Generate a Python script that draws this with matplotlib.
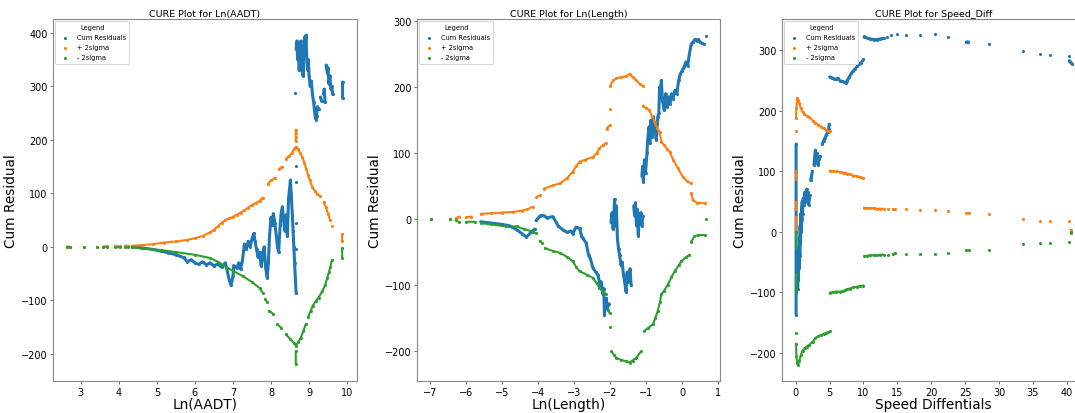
import numpy as np
from matplotlib import pyplot as plt

nan = np.nan

# ---- Ln(AADT) panel ----
aadt_cum_x = [4.35, 4.6, 4.9, 5.1, 5.3, 5.5, 5.7, 5.8, 5.9, 6.0, 6.1, 6.2, 6.3, 6.4, 6.5, 6.6, 6.7, 6.8,
              6.85, 6.9, 6.95, 7.0, 7.02, 7.1, 7.15, 7.2, 7.25, 7.3, 7.35, 7.4, 7.45, 7.5, 7.55, 7.58,
              7.62, 7.66, 7.7, 7.74, 7.78, 7.82, 7.86, 7.9, 7.93, 7.96, 8.0, 8.03, 8.06, 8.1, 8.14,
              8.17, 8.2, 8.24, 8.27, 8.3, 8.33, 8.36, 8.4, 8.43, 8.46, 8.49, 8.51, 8.53, 8.56, 8.58,
              8.6, 8.62, 8.64, 8.66, nan,
              8.65, nan, 8.65, nan, 8.65, nan, 8.65, nan, 8.64, nan,
              8.66, 8.68, 8.7, 8.72, 8.74, 8.76, 8.78, 8.8, 8.82, 8.84, 8.86, 8.88, 8.9, 8.92, 8.94,
              8.96, 8.98, 9.0, 9.03, 9.06, 9.09, 9.12, 9.15, 9.18, 9.2, 9.22, 9.25, nan,
              9.3, 9.33, nan, 9.38, 9.4, 9.42, nan, 9.45, 9.48, 9.5, 9.52, 9.55, 9.57, nan,
              9.6, 9.62, nan, 9.88, 9.88]
aadt_cum_y = [0, -2, -5, -8, -11, -15, -20, -28, -24, -30, -33, -28, -34, -30, -36, -32, -38, -30,
              -45, -62, -72, -55, -35, -40, -30, -42, -25, 5, -5, 10, 0, 15, 25, 10,
              -5, -20, -10, -35, -20, 0, -40, -58, -30, 20, 55, 40, 62, 45, 20,
              0, -10, 40, 65, 75, 50, 30, 60, 20, 90, 110, 125, 100, 60, 30,
              0, -30, -60, -87, nan,
              152, nan, 122, nan, 45, nan, -5, nan, 288, nan,
              370, 385, 350, 378, 330, 360, 385, 345, 375, 320, 360, 392, 370, 396, 350,
              330, 350, 320, 300, 310, 285, 270, 250, 238, 245, 262, 258, nan,
              280, 272, nan, 285, 295, 270, nan, 340, 325, 335, 305, 320, 295, nan,
              300, 285, nan, 308, 278]

aadt_hi_x = [2.64, 2.71, nan, 3.08, nan, 3.43, nan, 3.58, 3.68, nan, 3.9, 4.04, nan, 4.17, 4.25, nan,
             4.35, 4.6, 4.9, 5.2, 5.5, 5.8, 6.0, 6.2, 6.4, 6.5, 6.6, 6.7, 6.8, 6.9, 7.0, 7.1, 7.2,
             7.3, 7.4, 7.5, 7.6, 7.7, 7.78, nan,
             7.92, 8.0, 8.1, nan, 8.22, 8.3, nan, 8.4, 8.48, 8.55, 8.6, 8.65, 8.7, 8.76, 8.82, 8.88,
             8.93, 8.97, 9.02, 9.08, 9.15, 9.22, 9.28, nan, 9.38, 9.44, 9.5, 9.55, nan, 9.6, nan,
             8.65, 8.65, 8.65, 8.65, nan, 9.87, 9.87]
aadt_hi_y = [0, 0, nan, 0, nan, 0, nan, 0, 1, nan, 1, 1, nan, 2, 2, nan,
             2, 3, 5, 8, 10, 13, 16, 20, 27, 32, 38, 45, 50, 53, 56, 60, 64,
             68, 73, 78, 82, 86, 92, nan,
             118, 124, 128, nan, 146, 150, nan, 165, 170, 176, 182, 187, 183, 176, 168, 156,
             145, 135, 124, 112, 104, 99, 95, nan, 83, 74, 62, 50, nan, 38, nan,
             198, 205, 212, 219, nan, 23, 10]

aadt_lo_x = [2.64, 2.71, nan, 3.08, nan, 3.43, nan, 3.58, 3.68, nan, 3.9, 4.04, nan, 4.17, 4.25, nan,
             4.35, 4.6, 4.9, 5.1, 5.5, 6.0, 6.4, 6.6, 6.83, 7.0, 7.26, 7.5, 7.7, 7.78, nan,
             7.85, 7.9, nan, 7.96, 8.06, nan, 8.17, 8.26, nan, 8.39, 8.5, 8.6, 8.65, 8.72, 8.78,
             8.85, 8.91, nan, 8.97, 9.04, 9.1, 9.17, 9.25, 9.35, 9.42, 9.48, 9.52, 9.56, 9.6, nan,
             8.65, 8.65, nan, 9.87, 9.87]
aadt_lo_y = [0, 0, nan, 0, nan, 0, nan, 0, 0, nan, -1, -1, nan, -1, -1, nan,
             -1, -3, -5, -6, -10, -15, -21, -28, -38, -45, -55, -66, -77, -86, nan,
             -98, -104, nan, -120, -126, nan, -145, -151, nan, -164, -172, -180, -185, -178, -170,
             -158, -145, nan, -132, -120, -110, -102, -95, -83, -72, -58, -48, -37, -25, nan,
             -195, -220, nan, -2, -21]

# ---- Ln(Length) panel ----
len_cum_x = [-5.6, -5.3, -5.0, -4.8, -4.6, -4.45, -4.33, -4.2, -4.1, nan,
             -4.06, -3.95, -3.87, -3.75, -3.6, -3.51, -3.45, -3.32, -3.2, -3.1, -3.04, -2.95, -2.85,
             -2.8, -2.76, -2.67, -2.6, -2.55, -2.48, -2.4, -2.34, -2.28, -2.25, -2.2, -2.18, -2.16,
             -2.12, -2.08, -2.04, nan,
             -1.98, -1.95, -1.92, -1.9, -1.88, -1.85, -1.83, -1.8, -1.77, -1.74, -1.7, -1.67, -1.63,
             -1.6, -1.56, -1.53, -1.5, -1.45, -1.42, nan,
             -1.35, -1.32, -1.3, -1.27, -1.25, -1.22, -1.2, -1.15, -1.12, -1.1, nan,
             -1.12, -1.1, -1.08, -1.05, -1.02, -0.98, -0.96, -0.92, -0.9, -0.87, -0.84, -0.8, -0.76,
             -0.72, -0.68, -0.65, -0.63, -0.61, -0.58, -0.55, -0.5, -0.46, -0.42, -0.38, -0.34, -0.3,
             -0.26, -0.2, -0.15, -0.1, -0.05, 0.0, 0.05, 0.1, 0.15, 0.2, 0.25, 0.3, 0.35, 0.4, 0.45,
             0.5, 0.55, 0.6, nan, 0.67]
len_cum_y = [-4, -6, -8, -10, -16, -22, -27, -20, -15, nan,
             -2, 5, 6, 2, 4, -4, -10, -16, -20, -18, -22, -12, -14,
             -25, -29, -36, -55, -60, -74, -80, -85, -100, -95, -114, -105, -145,
             -120, -135, -128, nan,
             -5, 10, -15, 5, 30, -10, 20, -30, -45, -55, -70, -65, -85,
             -95, -110, -80, -95, -75, -100, nan,
             20, 5, 25, -10, 15, -25, 0, 10, -10, 5, nan,
             65, 80, 57, 90, 70, 100, 120, 140, 115, 150, 125, 155, 135,
             120, 155, 160, 200, 185, 210, 180, 165, 190, 170, 185, 175, 190,
             182, 195, 190, 210, 220, 225, 230, 238, 232, 250, 265, 268, 272, 270, 272,
             268, 266, 265, nan, 278]

len_hi_x = [-6.99, nan, -6.46, nan, -6.28, -6.19, nan, -6.0, -5.86, nan,
            -5.6, -5.3, -5.0, -4.7, -4.45, -4.3, -4.15, nan, -4.05, -3.95, nan,
            -3.85, -3.6, -3.4, -3.2, -3.04, -2.95, -2.85, -2.7, -2.48, -2.38, -2.3, -2.2, -2.13, nan,
            -2.1, -2.02, nan, -2.02, nan,
            -2.0, -1.92, -1.83, -1.7, -1.56, -1.46, -1.38, -1.28, -1.18, -1.09, nan,
            -1.09, -1.0, -0.91, -0.84, -0.77, -0.7, -0.63, -0.58, -0.5, -0.42, -0.35, -0.25, -0.12,
            0.02, 0.12, 0.25, nan, 0.25, 0.3, 0.4, 0.62]
len_hi_y = [0, nan, 0, nan, 2, 4, nan, 3, 4, nan,
            8, 9, 10, 11, 13, 15, 19, nan, 33, 36, nan,
            46, 51, 54, 62, 72, 80, 87, 90, 94, 100, 107, 112, 115, nan,
            137, 142, nan, 167, nan,
            202, 210, 213, 215, 216, 220, 215, 210, 205, 202, nan,
            172, 168, 165, 155, 147, 138, 132, 117, 112, 106, 102, 90, 77,
            64, 58, 54, nan, 39, 29, 25, 24]

len_lo_x = [-6.99, nan, -6.46, nan, -6.3, -6.2, nan, -6.0, -5.77, nan,
            -5.6, -5.3, -4.9, -4.6, -4.4, -4.15, -4.06, nan, -3.96, -3.9, nan,
            -3.82, -3.6, -3.4, -3.2, -3.04, -2.95, -2.85, -2.65, -2.48, -2.38, -2.3, -2.2, -2.11, nan,
            -2.06, -2.02, nan, -2.02, nan,
            -1.97, -1.9, -1.83, -1.7, -1.56, -1.46, -1.38, -1.28, -1.14, nan,
            -1.05, -0.95, -0.81, -0.75, -0.68, -0.62, -0.58, -0.5, -0.4, -0.3, -0.21, -0.1, -0.03,
            0.1, 0.2, nan, 0.25, 0.34, 0.45, 0.62, nan, 0.67]
len_lo_y = [0, nan, 0, nan, -1, -5, nan, -4, -4, nan,
            -6, -8, -11, -11, -15, -19, -21, nan, -33, -36, nan,
            -44, -48, -51, -57, -64, -72, -79, -84, -89, -97, -104, -110, -114, nan,
            -137, -142, nan, -164, nan,
            -200, -205, -210, -213, -215, -217, -214, -210, -200, nan,
            -169, -165, -159, -150, -139, -126, -114, -108, -99, -88, -79, -70, -64,
            -58, -54, nan, -34, -26, -24, -24, nan, 0]

# ---- Speed differential panel ----
spd_cum_x = [0.05, 0.05, 0.05, 0.05, 0.05, 0.05, 0.05, nan,
             0.3, 0.35, 0.4, 0.45, 0.5, 0.55, 0.6, 0.65, 0.7, 0.75, 0.8, 0.85, 0.9, 0.95, 1.0, 1.1,
             1.2, 1.3, 1.4, 1.5, 1.6, 1.7, 1.8, 1.9, 2.0, 2.1, nan, 2.2, 2.3, 2.45, nan,
             2.7, 2.8, 2.9, 3.0, 3.1, 3.3, 3.4, 3.6, nan,
             3.9, 4.1, 4.3, 4.5, 4.7, 4.85, 4.95, nan,
             5.0, 5.3, 5.6, 5.9, 6.2, 6.5, 6.8, 7.1, 7.4, 7.6, 7.9, 8.2, 8.5, 8.8, 9.1, 9.4, 9.7,
             10.0, nan,
             10.1, 10.6, 11.0, 11.5, 12.0, 12.5, 13.0, nan, 13.5, nan, 14.1, nan, 15.0, nan,
             16.3, nan, 18.3, nan, 20.6, nan, 22.5, nan, 25.2, 25.5, nan, 28.6, nan, 33.6, nan,
             36.1, nan, 37.5, nan, 40.3, nan, 40.4, 40.6, 40.8]
spd_cum_y = [145, 100, 50, 0, -50, -100, -137, nan,
             -95, -60, -80, -30, -60, -10, -40, 10, -20, 30, 0, 40, 20, 50, 30, 55,
             45, 65, 50, 60, 70, 55, 65, 45, 55, 60, nan, 85, 90, 100, nan,
             110, 125, 135, 115, 130, 110, 120, 125, nan,
             145, 150, 155, 160, 165, 170, 178, nan,
             256, 255, 253, 252, 254, 250, 249, 248, 246, 250, 256, 262, 266, 270, 274, 278, 280,
             285, nan,
             323, 320, 319, 318, 318, 319, 320, nan, 322, nan, 325, nan, 327, nan,
             326, nan, 326, nan, 327, nan, 322, nan, 314, 314, nan, 310, nan, 299, nan,
             294, nan, 293, nan, 290, nan, 283, 280, 278]

spd_hi_x = [0.05, 0.05, nan, 0.05, 0.05, nan, 0.05, 0.05, nan, 0.05, nan,
            0.05, 0.1, 0.2, 0.35, 0.5, 0.75, 1.0, 1.2, 1.6, 2.0, 2.5, 2.9, 3.3, 3.7, 4.1, 4.4, 4.8,
            5.1, nan,
            5.0, 5.5, 6.0, 6.5, 7.0, 7.3, 7.5, 8.0, 8.5, 9.0, 9.5, 10.0, nan,
            10.1, 10.5, 11.0, 11.5, 12.0, 12.5, 13.0, nan, 13.6, nan, 14.3, 14.7, nan, 16.3, nan,
            18.3, nan, 20.6, nan, 22.5, nan, 25.2, 25.6, nan, 28.6, nan, 33.6, nan, 36.1, nan,
            37.5, nan, 40.3, nan, 40.6, 40.7]
spd_hi_y = [100, 88, nan, 50, 38, nan, 25, 0, nan, 167, nan,
            188, 205, 221, 218, 213, 204, 198, 195, 192, 190, 184, 180, 177, 174, 171, 169, 167,
            166, nan,
            101, 100, 100, 99, 98, 98, 96, 95, 93, 92, 90, 89, nan,
            40, 39, 39, 39, 38, 38, 38, nan, 38, nan, 37, 37, nan, 37, nan,
            36, nan, 36, nan, 35, nan, 31, 31, nan, 30, nan, 21, nan, 18, nan,
            18, nan, 17, nan, 3, 0]

spd_lo_x = [0.05, 0.05, nan, 0.05, 0.05, nan, 0.05, nan,
            0.05, 0.1, 0.2, 0.35, 0.5, 0.75, 1.0, 1.3, 1.6, 2.0, 2.5, 2.9, 3.3, 3.7, 4.1, 4.4, 4.8,
            5.1, nan,
            5.0, 5.5, 6.0, 6.5, 7.0, 7.3, 7.5, 8.0, 8.5, 9.0, 9.5, 10.0, nan,
            10.1, 10.5, 11.0, 11.5, 12.0, 12.5, 13.0, nan, 13.6, nan, 14.3, 14.7, nan, 16.3, nan,
            18.3, nan, 20.6, nan, 22.5, nan, 25.2, 25.6, nan, 28.6, nan, 33.6, nan, 36.1, nan,
            37.5, nan, 40.3, nan, 40.6, 40.7]
spd_lo_y = [0, -25, nan, -70, -97, nan, -167, nan,
            -185, -205, -218, -220, -214, -204, -197, -193, -190, -187, -182, -176, -173, -171,
            -169, -168, -166, -165, nan,
            -101, -100, -99, -99, -98, -97, -95, -94, -92, -91, -90, -89, nan,
            -40, -40, -39, -39, -39, -38, -38, nan, -38, nan, -37, -36, nan, -37, nan,
            -37, nan, -37, nan, -36, nan, -31, -31, nan, -30, nan, -21, nan, -18, nan,
            -18, nan, -17, nan, -2, 0]

BLUE = "#1f77b4"
ORANGE = "#ff7f0e"
GREEN = "#2ca02c"
W, H = 1075, 414


def draw_panel(ax, series, title, xlabel, xlim, ylim, xticks, yticks):
    for xs, ys, col, lab, lw in series:
        ax.plot(xs, ys, color=col, lw=lw, solid_capstyle="round", zorder=2)
        ax.scatter(xs, ys, s=5, color=col, label=lab, linewidths=0, zorder=3)
    ax.set_xlim(*xlim)
    ax.set_ylim(*ylim)
    ax.set_xticks(xticks)
    ax.set_yticks(yticks)
    ax.set_title(title, fontsize=6.8, pad=2)
    ax.set_xlabel(xlabel, fontsize=9.8, labelpad=0)
    ax.set_ylabel("Cum Residual", fontsize=9.8, labelpad=2)
    ax.tick_params(labelsize=7, length=2.5, width=0.6, color="#555555", pad=1.5)
    for sp in ax.spines.values():
        sp.set_color("#888888")
        sp.set_linewidth(0.8)
    leg = ax.legend(title="Legend", loc="upper left", fontsize=4.8, title_fontsize=4.8,
                    markerscale=1.0, borderpad=0.5, labelspacing=0.6, handletextpad=0.8,
                    borderaxespad=0.3, fancybox=True, framealpha=1.0)
    leg.get_frame().set_linewidth(0.6)
    leg.get_frame().set_edgecolor("#cccccc")


fig = plt.figure(figsize=(W / 100, H / 100), dpi=100)

ax1 = fig.add_axes([53 / W, 32 / H, 304 / W, 362 / H])
draw_panel(ax1,
           [(aadt_cum_x, aadt_cum_y, BLUE, "Cum Residuals", 2.2),
            (aadt_hi_x, aadt_hi_y, ORANGE, "+ 2sigma", 1.5),
            (aadt_lo_x, aadt_lo_y, GREEN, "- 2sigma", 1.5)],
           "CURE Plot for Ln(AADT)", "Ln(AADT)", (2.27, 10.26), (-251, 426),
           range(3, 11), range(-200, 401, 100))

ax2 = fig.add_axes([417 / W, 32 / H, 303 / W, 362 / H])
draw_panel(ax2,
           [(len_cum_x, len_cum_y, BLUE, "Cum Residuals", 2.2),
            (len_hi_x, len_hi_y, ORANGE, "+ 2sigma", 1.5),
            (len_lo_x, len_lo_y, GREEN, "- 2sigma", 1.5)],
           "CURE Plot for Ln(Length)", "Ln(Length)", (-7.37, 1.05), (-245, 303),
           range(-7, 2), range(-200, 301, 100))

ax3 = fig.add_axes([782 / W, 32 / H, 303 / W, 362 / H])
draw_panel(ax3,
           [(spd_cum_x, spd_cum_y, BLUE, "Cum Residuals", 2.2),
            (spd_hi_x, spd_hi_y, ORANGE, "+ 2sigma", 1.5),
            (spd_lo_x, spd_lo_y, GREEN, "- 2sigma", 1.5)],
           "CURE Plot for Speed_Diff", "Speed Diffentials", (-2.03, 42.7), (-247, 352),
           range(0, 41, 5), range(-200, 301, 100))

fig.savefig("out.png", dpi=100)
